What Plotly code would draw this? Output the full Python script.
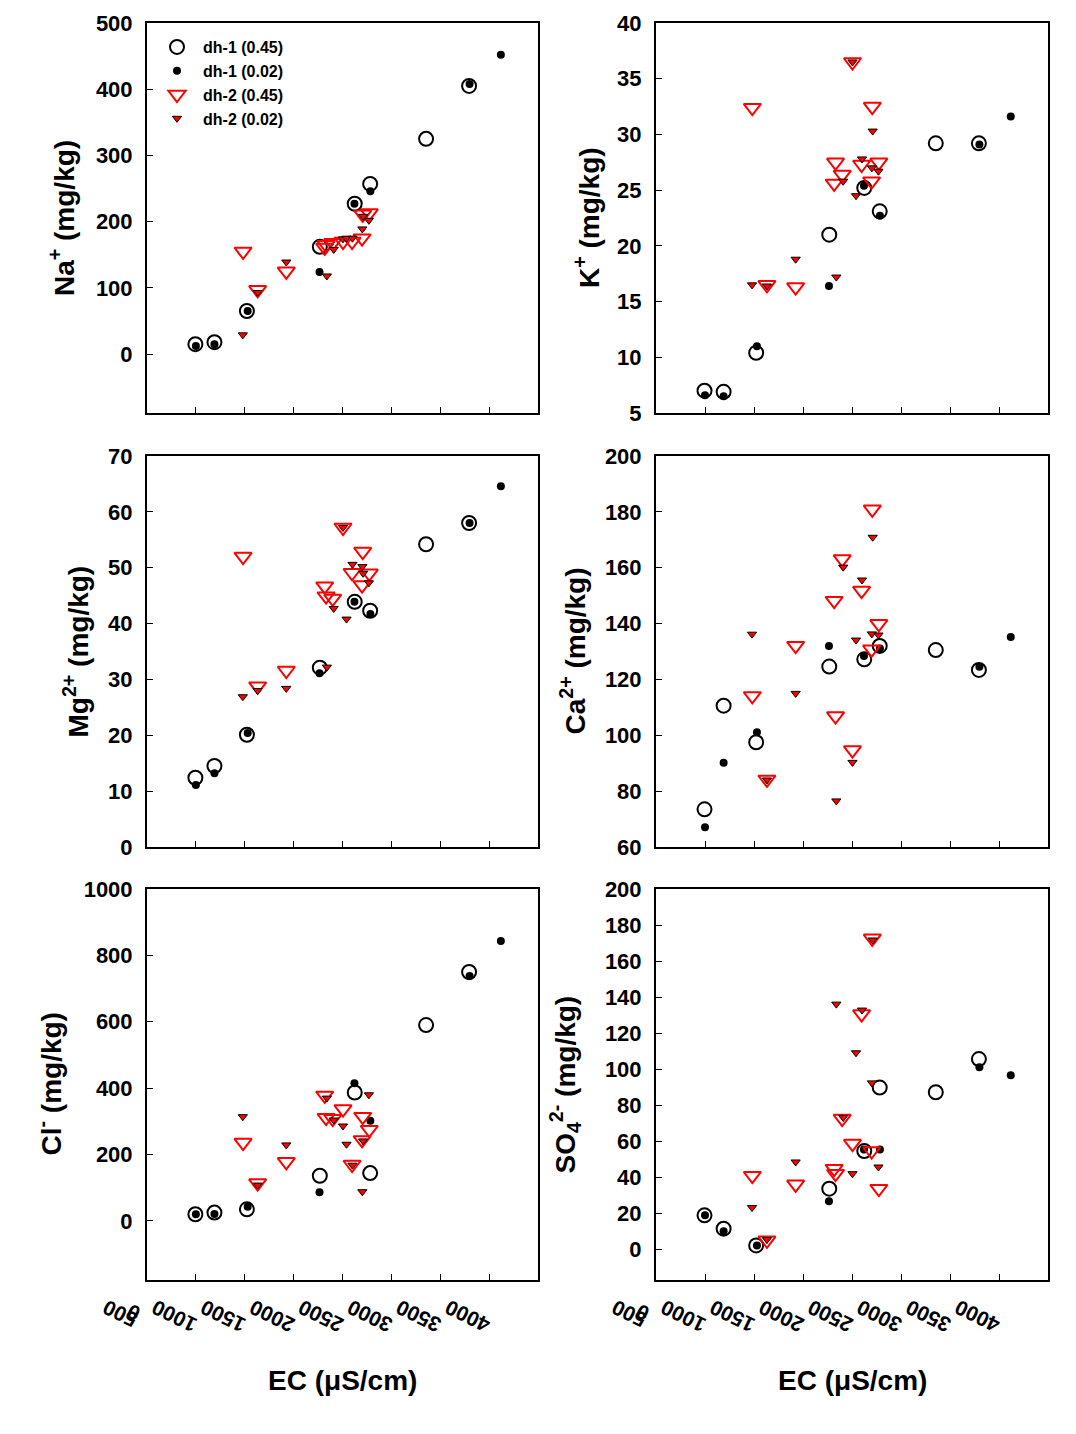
import plotly.graph_objects as go

# ---------------- data ----------------
ec_dh1_045 = [995, 1190, 1522, 2268, 2625, 2783, 3355, 3795]
ec_dh1_002 = [1000, 1190, 1530, 2265, 2622, 2785, 3800, 4120]
ec_dh2_045 = [1483, 1632, 1925, 2318, 2332, 2400, 2505, 2598, 2700, 2707, 2774]
ec_dh2_002 = [1480, 1632, 1925, 2340, 2410, 2505, 2541, 2602, 2703, 2711, 2770]

na_dh1_045 = [15, 18, 65, 162, 227, 257, 325, 405]
na_dh1_002 = [12, 15, 65, 124, 227, 246, 408, 452]
na_dh2_045 = [155, 97, 125, 161, 165, 168, 170, 170, 175, 211, 213]
na_dh2_002 = [29, 93, 139, 118, 158, 174, 175, 175, 189, 208, 202]

k_dh1_045 = [7.0, 6.9, 10.4, 21.0, 25.2, 23.1, 29.2, 29.2]
k_dh1_002 = [6.6, 6.5, 11.0, 16.4, 25.4, 22.7, 29.1, 31.6]
k_dh2_045 = [32.4, 16.5, 16.3, 25.6, 27.5, 26.4, 36.5, 27.3, 25.8, 32.5, 27.5]
k_dh2_002 = [16.5, 16.4, 18.8, 17.2, 25.8, 36.5, 24.5, 27.8, 27.0, 30.3, 26.7]

mg_dh1_045 = [12.4, 14.5, 20.1, 32.1, 43.9, 42.3, 54.2, 58.0]
mg_dh1_002 = [11.1, 13.2, 20.4, 31.1, 43.9, 41.7, 58.0, 64.6]
mg_dh2_045 = [52.0, 28.8, 31.6, 46.7, 44.9, 44.5, 57.2, 49.1, 46.9, 52.9, 49.0]
mg_dh2_002 = [26.9, 28.0, 28.4, 32.2, 42.7, 57.2, 40.8, 50.6, 50.2, 49.0, 47.3]

ca_dh1_045 = [73.5, 110.6, 97.5, 124.6, 127.2, 132.0, 130.5, 123.4]
ca_dh1_002 = [67.1, 90.2, 101.1, 132.0, 128.4, 131.1, 124.5, 135.2]
ca_dh2_045 = [114.1, 84.2, 132.1, 148.2, 106.9, 163.1, 94.7, 151.8, 130.8, 180.9, 139.9]
ca_dh2_002 = [136.2, 84.0, 115.0, 76.5, 160.2, 90.3, 134.1, 155.6, 136.3, 170.9, 135.9]

cl_dh1_045 = [20, 25, 35, 136, 387, 144, 590, 750]
cl_dh1_002 = [20, 21, 43, 86, 415, 302, 738, 843]
cl_dh2_045 = [236, 114, 178, 378, 311, 308, 337, 170, 244, 314, 275]
cl_dh2_002 = [314, 108, 229, 370, 304, 286, 231, 168, 88, 241, 380]

so4_dh1_045 = [18.9, 11.5, 2.2, 33.7, 54.6, 89.8, 87.2, 105.6]
so4_dh1_002 = [18.9, 10.0, 2.2, 26.7, 55.4, 55.4, 101.1, 96.7]
so4_dh2_045 = [40.9, 5.0, 36.1, 44.8, 42.0, 72.6, 58.7, 130.6, 54.6, 172.6, 33.7]
so4_dh2_002 = [23.2, 5.4, 48.5, 136.1, 73.2, 42.0, 109.1, 132.8, 92.4, 171.7, 45.7]

series_names = ["dh-1 (0.45)", "dh-1 (0.02)", "dh-2 (0.45)", "dh-2 (0.02)"]
x_tickvals = [500, 1000, 1500, 2000, 2500, 3000, 3500, 4000]
x_ticktext = ["500", "1000", "1500", "2000", "2500", "3000", "3500", "4000"]

panels = [
    dict(y=[na_dh1_045, na_dh1_002, na_dh2_045, na_dh2_002], title="Na<sup>+</sup> (mg/kg)",
         rng=[-89, 500], dtick=100),
    dict(y=[k_dh1_045, k_dh1_002, k_dh2_045, k_dh2_002], title="K<sup>+</sup> (mg/kg)",
         rng=[5, 40], dtick=5),
    dict(y=[mg_dh1_045, mg_dh1_002, mg_dh2_045, mg_dh2_002], title="Mg<sup>2+</sup> (mg/kg)",
         rng=[0, 70], dtick=10),
    dict(y=[ca_dh1_045, ca_dh1_002, ca_dh2_045, ca_dh2_002], title="Ca<sup>2+</sup> (mg/kg)",
         rng=[60, 200], dtick=20),
    dict(y=[cl_dh1_045, cl_dh1_002, cl_dh2_045, cl_dh2_002], title="Cl<sup>-</sup> (mg/kg)",
         rng=[-178, 1000], dtick=200),
    dict(y=[so4_dh1_045, so4_dh1_002, so4_dh2_045, so4_dh2_002], title="SO<sub>4</sub><sup>2-</sup> (mg/kg)",
         rng=[-17, 200], dtick=20),
]
xs = [ec_dh1_045, ec_dh1_002, ec_dh2_045, ec_dh2_002]

# ---------------- styles ----------------
OFF = 8                      # default body margin of the html page
W, H = 1076 - 2 * OFF, 1434 - 2 * OFF
FONT = "Arial, Liberation Sans, sans-serif"


def px(xs_):
    return (xs_ - OFF) / W


def py(ys_):
    return 1 - (ys_ - OFF) / H


markers = [
    dict(symbol="circle-open", size=14, color="black", line=dict(width=2, color="black")),
    dict(symbol="circle", size=8, color="black", line=dict(width=0)),
    dict(symbol="triangle-down-open", size=15, color="red", line=dict(width=2, color="red")),
    dict(symbol="triangle-down", size=8, color="red", line=dict(width=1, color="black")),
]

col_px = [(147, 538), (656, 1048)]
row_px = [(23, 413), (456, 847), (889, 1280)]
ytitle_x = [62, 587, 76, 573, 49, 565]

fig = go.Figure()
layout = dict(width=W, height=H, margin=dict(l=0, r=0, t=0, b=0, autoexpand=False),
              plot_bgcolor="white", paper_bgcolor="white",
              font=dict(family=FONT, color="black"),
              showlegend=True,
              legend=dict(x=px(151), y=py(30), xanchor="left", yanchor="top",
                          bgcolor="rgba(0,0,0,0)", font=dict(size=16, weight="bold"),
                          tracegroupgap=0, itemwidth=42),
              annotations=[])

for i, p in enumerate(panels):
    r, c = divmod(i, 2)
    n = i + 1
    xa = "x" if n == 1 else f"x{n}"
    ya = "y" if n == 1 else f"y{n}"
    for s in range(4):
        fig.add_trace(go.Scatter(x=xs[s], y=p["y"][s], mode="markers", name=series_names[s],
                                 marker=markers[s], xaxis=xa, yaxis=ya,
                                 showlegend=(i == 0)))
    x0, x1 = col_px[c]
    y0, y1 = row_px[r]
    bottom = (r == 2)
    layout[f"xaxis{n if n > 1 else ''}"] = dict(
        domain=[px(x0), px(x1)], anchor=ya, range=[500, 4500], automargin=False,
        tickmode="array", tickvals=x_tickvals, ticktext=x_ticktext,
        showticklabels=bottom, ticks="inside", ticklen=6, tickwidth=1, tickcolor="black",
        showline=True, linewidth=2, linecolor="black", mirror=True,
        showgrid=False, zeroline=False, tickangle=-154,
        ticklabelshift=-44, ticklabelstandoff=12,
        tickfont=dict(size=21, weight="bold", family=FONT))
    layout[f"yaxis{n if n > 1 else ''}"] = dict(
        domain=[py(y1), py(y0)], anchor=xa, range=p["rng"], automargin=False,
        tick0=0, dtick=p["dtick"], ticks="inside", ticklen=6, tickwidth=1, tickcolor="black",
        showline=True, linewidth=2, linecolor="black", mirror=True,
        showgrid=False, zeroline=False, ticklabelstandoff=8,
        tickfont=dict(size=22, weight="bold", family=FONT))
    layout["annotations"].append(dict(
        text=f"<b>{p['title']}</b>", textangle=-90, x=px(ytitle_x[i]), y=py((y0 + y1) / 2),
        xref="paper", yref="paper", showarrow=False, xanchor="center", yanchor="middle",
        font=dict(size=28, family=FONT)))

for c in range(2):
    x0, x1 = col_px[c]
    layout["annotations"].append(dict(
        text="<b>EC (\u03bcS/cm)</b>", x=px((x0 + x1) / 2), y=py(1380), xref="paper", yref="paper",
        showarrow=False, xanchor="center", yanchor="middle", font=dict(size=28, family=FONT)))
    layout["annotations"].append(dict(
        text="<b>0</b>", textangle=-154, x=px(x0 - 14), y=py(1313), xref="paper", yref="paper",
        showarrow=False, xanchor="center", yanchor="middle", font=dict(size=21, family=FONT)))

fig.update_layout(**layout)
fig.write_html("out.html")
